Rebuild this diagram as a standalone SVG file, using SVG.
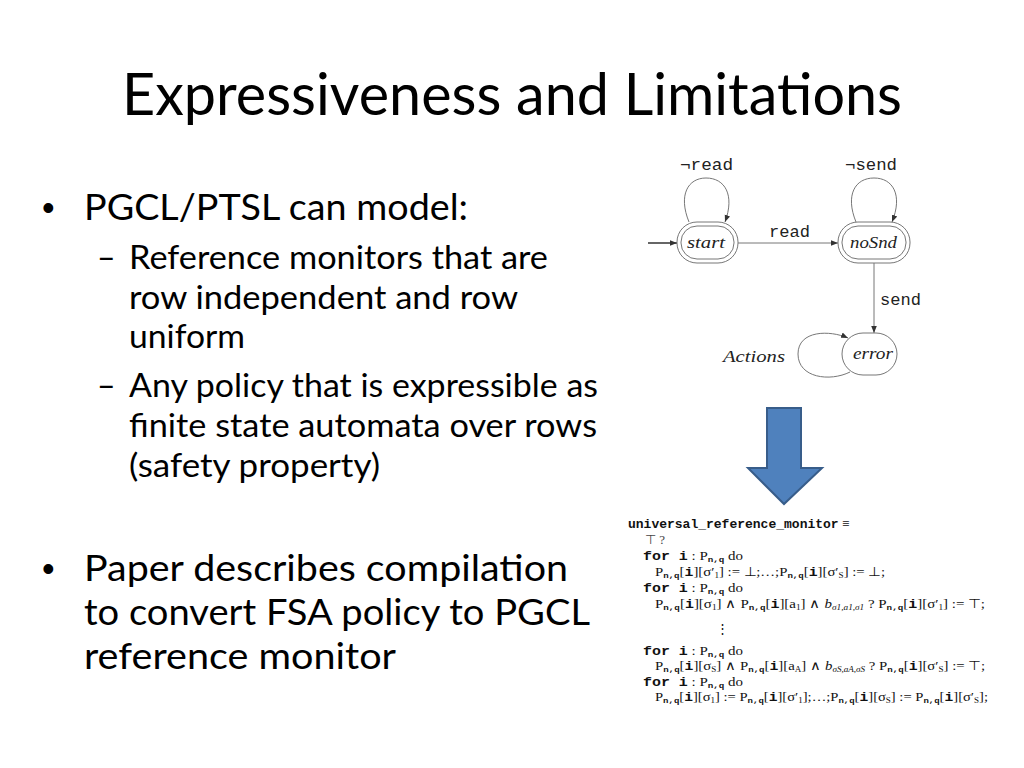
<svg xmlns="http://www.w3.org/2000/svg" width="1024" height="768" viewBox="0 0 1024 768">
<style>
.cal{font-family:Lato,"Open Sans","Liberation Sans",sans-serif;fill:#000}
.t{font-size:58px}
.b1{font-size:37px}
.b2{font-size:32px}
.bul{font-family:"Liberation Sans",sans-serif;font-size:36px;fill:#000}
.st{font-family:"Liberation Serif",serif;font-style:italic;font-size:17px;fill:#222}
.lb{font-family:"Liberation Mono",monospace;font-size:16px;fill:#222}
.ln{fill:none;stroke:#777;stroke-width:1}
.sh{fill:#fff;stroke:#777;stroke-width:1}
.code{font-family:"Liberation Serif",serif;font-size:13px;fill:#111}
.m{font-family:"Liberation Mono",monospace;font-weight:bold}
.s{font-size:8px}
</style>
<defs>
<marker id="ah" viewBox="0 0 10 10" refX="10" refY="5" markerWidth="7" markerHeight="7" markerUnits="userSpaceOnUse" orient="auto">
<path d="M0,1 L10,5 L0,9 z" fill="#333"/>
</marker>
</defs>
<rect width="1024" height="768" fill="#fff"/>

<text class="cal t" x="122" y="115" textLength="780" lengthAdjust="spacingAndGlyphs">Expressiveness and Limitations</text>

<g id="bullets">
<text class="bul" x="42" y="220">•</text>
<text class="cal b1" x="84" y="220" textLength="384" lengthAdjust="spacingAndGlyphs">PGCL/PTSL can model:</text>
<text class="cal b2" x="97" y="269">–</text>
<text class="cal b2" x="129" y="269" textLength="419" lengthAdjust="spacingAndGlyphs">Reference monitors that are</text>
<text class="cal b2" x="129" y="309" textLength="389" lengthAdjust="spacingAndGlyphs">row independent and row</text>
<text class="cal b2" x="129" y="348" textLength="116" lengthAdjust="spacingAndGlyphs">uniform</text>
<text class="cal b2" x="97" y="397">–</text>
<text class="cal b2" x="129" y="397" textLength="469" lengthAdjust="spacingAndGlyphs">Any policy that is expressible as</text>
<text class="cal b2" x="129" y="437" textLength="468" lengthAdjust="spacingAndGlyphs">finite state automata over rows</text>
<text class="cal b2" x="129" y="477" textLength="251" lengthAdjust="spacingAndGlyphs">(safety property)</text>
<text class="bul" x="42" y="581">•</text>
<text class="cal b1" x="84" y="581" textLength="484" lengthAdjust="spacingAndGlyphs">Paper describes compilation</text>
<text class="cal b1" x="84" y="625" textLength="506" lengthAdjust="spacingAndGlyphs">to convert FSA policy to PGCL</text>
<text class="cal b1" x="84" y="669" textLength="312" lengthAdjust="spacingAndGlyphs">reference monitor</text>
</g>

<g id="connectors">
<line x1="648" y1="243" x2="677" y2="243" stroke="#000" stroke-width="1.2" marker-end="url(#ah)"/>
<line class="ln" x1="738" y1="243" x2="838" y2="243" marker-end="url(#ah)"/>
<line class="ln" x1="874" y1="263" x2="874" y2="333" marker-end="url(#ah)"/>
<path class="ln" d="M689,222 C678,195 688,178 706,178 C725,178 735,195 725,222" marker-end="url(#ah)"/>
<path class="ln" d="M856,222 C845,195 855,178 874,178 C893,178 903,195 892,222" marker-end="url(#ah)"/>
<path class="ln" d="M850,372 C830,382 798,378 798,354 C798,330 830,330 848,338" marker-end="url(#ah)"/>
<text class="lb" x="680" y="170" textLength="53" lengthAdjust="spacingAndGlyphs">¬read</text>
<text class="lb" x="845" y="170" textLength="52" lengthAdjust="spacingAndGlyphs">¬send</text>
<text class="lb" x="769" y="237" textLength="41" lengthAdjust="spacingAndGlyphs">read</text>
<text class="lb" x="880" y="305" textLength="41" lengthAdjust="spacingAndGlyphs">send</text>
<text class="st" x="723" y="362" textLength="62" lengthAdjust="spacingAndGlyphs">Actions</text>
</g>

<g id="start">
<rect class="sh" x="677" y="222" width="61" height="41" rx="20"/>
<rect class="sh" x="681" y="226" width="53" height="33" rx="16"/>
<text class="st" x="687" y="248" textLength="38" lengthAdjust="spacingAndGlyphs">start</text>
</g>
<g id="noSnd">
<rect class="sh" x="838" y="222" width="72" height="41" rx="20"/>
<rect class="sh" x="842" y="226" width="64" height="33" rx="16"/>
<text class="st" x="850" y="248" textLength="47" lengthAdjust="spacingAndGlyphs">noSnd</text>
</g>
<g id="error">
<rect class="sh" x="842" y="333" width="55" height="42" rx="21" fill-opacity="0"/>
<text class="st" x="853" y="359" textLength="40" lengthAdjust="spacingAndGlyphs">error</text>
</g>

<polygon id="bigarrow" points="767,408 801,408 801,468 822,468 784,504 748,468 767,468" fill="#4f81bd" stroke="#385d8a" stroke-width="2"/>

<g id="code" class="code">
<text x="628" y="528"><tspan class="m">universal_reference_monitor</tspan> ≡</text>
<text x="645" y="544" fill="#444">⊤ ?</text>
<text x="643" y="560" textLength="100" lengthAdjust="spacingAndGlyphs"><tspan class="m">for i</tspan> : P<tspan class="m s" baseline-shift="-2">n,q</tspan> do</text>
<text x="655" y="576" textLength="230" lengthAdjust="spacingAndGlyphs">P<tspan class="m s" baseline-shift="-2">n,q</tspan>[<tspan class="m">i</tspan>][σ′<tspan class="s" baseline-shift="-2">1</tspan>] := ⊥;…;P<tspan class="m s" baseline-shift="-2">n,q</tspan>[<tspan class="m">i</tspan>][σ′<tspan class="s" baseline-shift="-2">S</tspan>] := ⊥;</text>
<text x="643" y="592" textLength="100" lengthAdjust="spacingAndGlyphs"><tspan class="m">for i</tspan> : P<tspan class="m s" baseline-shift="-2">n,q</tspan> do</text>
<text x="655" y="608" textLength="330" lengthAdjust="spacingAndGlyphs">P<tspan class="m s" baseline-shift="-2">n,q</tspan>[<tspan class="m">i</tspan>][σ<tspan class="s" baseline-shift="-2">1</tspan>] ∧ P<tspan class="m s" baseline-shift="-2">n,q</tspan>[<tspan class="m">i</tspan>][a<tspan class="s" baseline-shift="-2">1</tspan>] ∧ <tspan font-style="italic">b</tspan><tspan class="s" font-style="italic" baseline-shift="-2">σ1,a1,σ1</tspan> ? P<tspan class="m s" baseline-shift="-2">n,q</tspan>[<tspan class="m">i</tspan>][σ′<tspan class="s" baseline-shift="-2">1</tspan>] := ⊤;</text>
<text x="722" y="633" text-anchor="middle">⋮</text>
<text x="643" y="655" textLength="100" lengthAdjust="spacingAndGlyphs"><tspan class="m">for i</tspan> : P<tspan class="m s" baseline-shift="-2">n,q</tspan> do</text>
<text x="655" y="670" textLength="330" lengthAdjust="spacingAndGlyphs">P<tspan class="m s" baseline-shift="-2">n,q</tspan>[<tspan class="m">i</tspan>][σ<tspan class="s" baseline-shift="-2">S</tspan>] ∧ P<tspan class="m s" baseline-shift="-2">n,q</tspan>[<tspan class="m">i</tspan>][a<tspan class="s" baseline-shift="-2">A</tspan>] ∧ <tspan font-style="italic">b</tspan><tspan class="s" font-style="italic" baseline-shift="-2">σS,aA,σS</tspan> ? P<tspan class="m s" baseline-shift="-2">n,q</tspan>[<tspan class="m">i</tspan>][σ′<tspan class="s" baseline-shift="-2">S</tspan>] := ⊤;</text>
<text x="643" y="686" textLength="100" lengthAdjust="spacingAndGlyphs"><tspan class="m">for i</tspan> : P<tspan class="m s" baseline-shift="-2">n,q</tspan> do</text>
<text x="655" y="701" textLength="333" lengthAdjust="spacingAndGlyphs">P<tspan class="m s" baseline-shift="-2">n,q</tspan>[<tspan class="m">i</tspan>][σ<tspan class="s" baseline-shift="-2">1</tspan>] := P<tspan class="m s" baseline-shift="-2">n,q</tspan>[<tspan class="m">i</tspan>][σ′<tspan class="s" baseline-shift="-2">1</tspan>];…;P<tspan class="m s" baseline-shift="-2">n,q</tspan>[<tspan class="m">i</tspan>][σ<tspan class="s" baseline-shift="-2">S</tspan>] := P<tspan class="m s" baseline-shift="-2">n,q</tspan>[<tspan class="m">i</tspan>][σ′<tspan class="s" baseline-shift="-2">S</tspan>];</text>
</g>
</svg>
